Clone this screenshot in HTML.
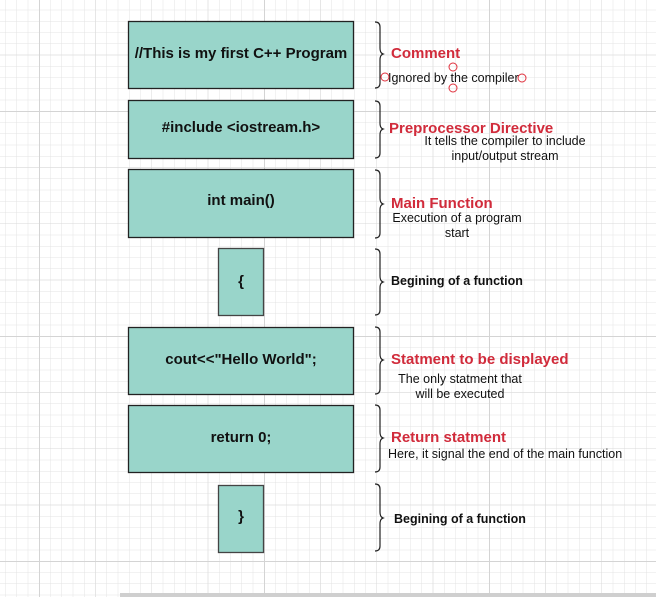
<!DOCTYPE html>
<html><head><meta charset="utf-8"><style>
html,body{margin:0;padding:0;background:#fff;}
svg{display:block;font-family:"Liberation Sans",Arial,sans-serif;}
</style></head><body>
<svg width="656" height="597" viewBox="0 0 656 597" xmlns="http://www.w3.org/2000/svg">
<defs>
<pattern id="minor" x="39" y="111" width="11.25" height="11.25" patternUnits="userSpaceOnUse">
<path d="M0 0H11.25M0 0V11.25" stroke="#e3e3e3" stroke-width="1" fill="none"/>
</pattern>
<pattern id="mid" x="39" y="111" width="56.25" height="56.25" patternUnits="userSpaceOnUse">
<path d="M0 0H56.25M0 0V56.25" stroke="#d9d9d9" stroke-width="1" fill="none"/>
</pattern>
<pattern id="maj" x="39" y="111" width="225" height="225" patternUnits="userSpaceOnUse">
<path d="M0 0H225M0 0V225" stroke="#d4d4d4" stroke-width="2" fill="none"/>
</pattern>
</defs>
<rect width="656" height="597" fill="#fff"/>
<rect width="656" height="597" fill="url(#minor)"/>
<rect width="656" height="597" fill="url(#mid)"/>
<rect width="656" height="597" fill="url(#maj)"/>
<rect x="120" y="593" width="536" height="4" fill="#cfcfcf"/>

<g fill="#99d5ca" stroke="#222" stroke-width="1.3">
<rect x="128.5" y="21.5" width="225" height="67"/>
<rect x="128.5" y="100.5" width="225" height="58"/>
<rect x="128.5" y="169.5" width="225" height="68"/>
<rect x="218.5" y="248.5" width="45" height="67" stroke="#444"/>
<rect x="128.5" y="327.5" width="225" height="67"/>
<rect x="128.5" y="405.5" width="225" height="67"/>
<rect x="218.5" y="485.5" width="45" height="67" stroke="#444"/>
</g>
<g font-weight="bold" font-size="15" fill="#111" text-anchor="middle">
<text x="241" y="58">//This is my first C++ Program</text>
<text x="241" y="132">#include &lt;iostream.h&gt;</text>
<text x="241" y="205">int main()</text>
<text x="241" y="286">{</text>
<text x="241" y="364">cout&lt;&lt;"Hello World";</text>
<text x="241" y="442">return 0;</text>
<text x="241" y="521">}</text>
</g>

<g fill="none" stroke="#222" stroke-width="1.2">
<path d="M375 22 Q380 22 380 27 V48 Q380 53 383 54 Q380 55 380 60 V83 Q380 88 375 88"/>
<path d="M375 101 Q380 101 380 106 V123 Q380 128 383 129 Q380 130 380 135 V153 Q380 158 375 158"/>
<path d="M375 170 Q380 170 380 175 V198 Q380 203 383 204 Q380 205 380 210 V233 Q380 238 375 238"/>
<path d="M375 249 Q380 249 380 254 V276 Q380 281 383 282 Q380 283 380 288 V310 Q380 315 375 315"/>
<path d="M375 327 Q380 327 380 332 V354 Q380 359 383 360 Q380 361 380 366 V389 Q380 394 375 394"/>
<path d="M375 405 Q380 405 380 410 V432 Q380 437 383 438 Q380 439 380 444 V467 Q380 472 375 472"/>
<path d="M375 484 Q380 484 380 489 V512 Q380 517 383 518 Q380 519 380 524 V546 Q380 551 375 551"/>
</g>

<g font-weight="bold" font-size="15" fill="#d12b3b">
<text x="391" y="58">Comment</text>
<text x="389" y="133">Preprocessor Directive</text>
<text x="391" y="208">Main Function</text>
<text x="391" y="364">Statment to be displayed</text>
<text x="391" y="442">Return statment</text>
</g>
<g font-size="12.5" fill="#111">
<text x="388" y="82">Ignored by the compiler</text>
<text x="505" y="145" text-anchor="middle">It tells the compiler to include</text>
<text x="505" y="160" text-anchor="middle">input/output stream</text>
<text x="457" y="222" text-anchor="middle">Execution of a program</text>
<text x="457" y="237" text-anchor="middle">start</text>
<text x="460" y="383" text-anchor="middle">The only statment that</text>
<text x="460" y="398" text-anchor="middle">will be executed</text>
<text x="388" y="458">Here, it signal the end of the main function</text>
</g>
<g font-weight="bold" font-size="12.5" fill="#111">
<text x="391" y="285">Begining of a function</text>
<text x="394" y="523">Begining of a function</text>
</g>
<g fill="none" stroke="#e0303d" stroke-width="1">
<circle cx="385" cy="77" r="4"/>
<circle cx="453" cy="67" r="4"/>
<circle cx="522" cy="78" r="4"/>
<circle cx="453" cy="88" r="4"/>
</g>
</svg>
</body></html>
